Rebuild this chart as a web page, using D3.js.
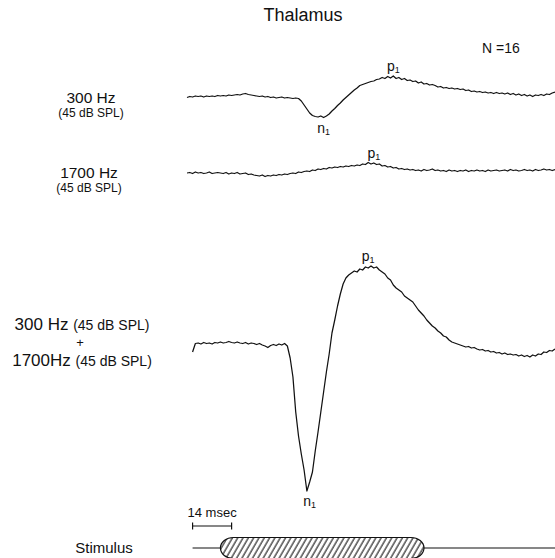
<!DOCTYPE html>
<html>
<head>
<meta charset="utf-8">
<script src="https://cdn.jsdelivr.net/npm/d3@7"></script>
<style>
  html, body { margin: 0; padding: 0; background: #fff; }
  svg { display: block; font-family: "Liberation Sans", Arial, sans-serif; }
</style>
</head>
<body>
<div id="chart"></div>
<script>
// msec from stimulus onset, one sample per msec
const times = d3.range(-12, 121);

// averaged responses, amplitude in arbitrary units
const trace300 = [
  -0.5, 0.5, 0, 1, 0.5, 1, 0, 1, 0.5, 1, 0.5, 1.5,
  1, 1.5, 1, 2, 1.5, 2, 2.5, 2, 3, 3.5, 2.5, 2, 1.5, 1, 0.5, 1, 0, 0.5, -0.5, 0, -1, -0.5, 0, -1, -0.5, -1, -1.5, -1,
  -1.5, -4, -8, -12, -16, -18.5, -19.5, -20, -19, -20.5, -19, -17, -14, -11.5, -8.5, -6, -3, -0.5, 2, 4.5, 7, 9,
  11.5, 12.5, 13.5, 14.5, 15.5, 16, 17.5, 18, 19.5, 18.5, 20.5, 19, 21, 18.5, 19.5, 17.5, 18.5, 16.5, 17, 15.5, 16,
  14, 15, 13, 13.5, 12, 12.5, 11.5, 10, 10.5, 9, 9.5, 8.5, 9, 8, 8.5, 7.5, 8, 6.5, 7, 5.5, 6, 5, 5.5, 4.5, 5, 4,
  4.5, 3.5, 4.5, 3.5, 4, 3, 4, 2.5, 3.5, 2, 3, 1.5, 2.5, 1, 2, 0.5, 2, 1.5, 2.5, 1.5, 3, 2.5, 4, 5
];

const trace1700 = [
  0, 0.5, -0.5, 1, 0, 0.5, -0.5, 0, 1, -0.5, 0, 0.5,
  0, -0.5, 0.5, -1, 0, -0.5, 0.5, -1, -0.5, 0, -1.5, -1, -2,
  -2.5, -3, -2, -3.5, -2.5, -3, -2, -2.5, -1.5, -2, -1, -1.5, -0.5,
  0, -0.5, 1, 0.5, 1.5, 2, 1.5, 3, 2.5, 4, 3.5, 4.5, 4, 5.5, 5,
  6, 5.5, 6.5, 6, 7, 6.5, 7.5, 7, 8, 7.5, 9, 8.5, 10.5, 9, 10,
  8.5, 9, 7, 7.5, 6, 6.5, 5, 5.5, 4, 4.5, 3.5, 4, 3, 3.5, 2.5,
  3, 2, 3.5, 2.5, 3, 4, 2.5, 3, 2, 2.5, 1.5, 3, 2, 2.5, 1.5,
  2.5, 2, 3, 1.5, 2.5, 2, 3, 2, 2.5, 1.5, 3, 2, 2.5, 3, 2,
  2.5, 3, 2, 3.5, 2.5, 3, 2, 2.5, 3.5, 2.5, 3, 2, 3.5, 2.5, 3, 4, 3, 3.5, 2.5, 3.5
];

const traceBoth = [
  null, null,
  -8, 0.5, 1, 0, 1.5, 0.5, 1, 0, 1.5, 1,
  2, 1, 1.5, 2.5, 1.5, 1, 2, 1, 0.5, 1.5, 0, 1, 0.5, -0.5, 0.5, -1, -2, -3.5, -1.5, -0.5, -1.5, 0, -1, 0.5,
  -2, -14, -33, -68, -92, -110, -126, -147, -138, -128,
  -107, -88, -68, -48, -28, -10, 11, 24, 38, 50, 60, 66, 69, 71, 73,
  72, 75, 74, 77, 76, 78, 76, 77, 74, 72, 70, 66, 64, 59, 56,
  54, 52, 48, 46, 44, 42, 38, 34, 31, 28, 24, 21, 18, 16, 13,
  11, 8, 7, 4, 2, 1, 0, -1, -2, -3, -2.5, -4, -3.5, -5, -6,
  -5.5, -7, -6.5, -8, -7.5, -9, -8.5, -10, -9, -10.5, -10, -11, -10.5, -12, -11,
  -12.5, -11.5, -13, -11, -12, -10, -10.5, -8, -8.5, -6.5, -7, -5
];

// peak labels: [trace index, msec, name]
const peaks = [
  [0, 37, "n"], [0, 62, "p"],
  [1, 55, "p"],
  [2, 32, "n"], [2, 53, "p"]
];

const stimulusOn = [0, 73];     // msec
const stimulusLine = [-10, 120];
const scaleBarMs = [-10, 4];    // 14 msec

const width = 555, height = 558;
const svg = d3.select("#chart").append("svg")
    .attr("width", width)
    .attr("height", height);

const x = d3.scaleLinear().domain([-12, 120]).range([187, 555]);

const baselines = [97, 173, 344];
const yScales = baselines.map(b => d3.scaleLinear().domain([0, 1]).range([b, b - 1]));
const traces = [trace300, trace1700, traceBoth];

traces.forEach((vals, i) => {
    const line = d3.line()
        .defined((d, j) => vals[j] != null)
        .x((d, j) => x(times[j]))
        .y((d, j) => yScales[i](vals[j]));
    svg.append("path")
        .attr("d", line(vals))
        .attr("fill", "none")
        .attr("stroke", "#111")
        .attr("stroke-width", 1.25)
        .attr("stroke-linejoin", "round");
});

// n1 / p1 labels, placed off the local extreme
peaks.forEach(([ti, t, name]) => {
    const vals = traces[ti];
    const j = times.indexOf(Math.round(t));
    const win = vals.slice(j - 3, j + 4);
    const ext = name === "p" ? d3.max(win) : d3.min(win);
    const yv = yScales[ti](ext);
    const ty = name === "p" ? yv - 5 : yv + 15;
    const txt = svg.append("text")
        .attr("x", x(t))
        .attr("y", ty)
        .attr("text-anchor", "middle")
        .attr("font-size", 14)
        .attr("fill", "#111")
        .text(name);
    txt.append("tspan")
        .attr("font-size", 9)
        .attr("dy", 2)
        .text("1");
});

// text
svg.append("text").attr("x", 303).attr("y", 21).attr("text-anchor", "middle")
    .attr("font-size", 18).attr("fill", "#111").text("Thalamus");
svg.append("text").attr("x", 482).attr("y", 53)
    .attr("font-size", 14).attr("fill", "#111").text("N =16");

const left = [
    ["300 Hz", 91, 103, 15.5],
    ["(45 dB SPL)", 91, 117, 12],
    ["1700 Hz", 89, 178, 15.5],
    ["(45 dB SPL)", 89, 192, 12]
];
left.forEach(([s, lx, ly, fs]) => {
    svg.append("text").attr("x", lx).attr("y", ly).attr("text-anchor", "middle")
        .attr("font-size", fs).attr("fill", "#111").text(s);
});

const combo = [["300 Hz", 330], ["1700Hz", 366]];
combo.forEach(([s, ly]) => {
    const t = svg.append("text").attr("x", 82).attr("y", ly).attr("text-anchor", "middle")
        .attr("font-size", 17).attr("fill", "#111").text(s + " ");
    t.append("tspan").attr("font-size", 14).text("(45 dB SPL)");
});
svg.append("text").attr("x", 80).attr("y", 347).attr("text-anchor", "middle")
    .attr("font-size", 13).attr("fill", "#111").text("+");

// scale bar
const sbY = 526;
svg.append("line").attr("x1", x(scaleBarMs[0])).attr("x2", x(scaleBarMs[1]))
    .attr("y1", sbY).attr("y2", sbY).attr("stroke", "#111").attr("stroke-width", 1.2);
scaleBarMs.forEach(t => {
    svg.append("line").attr("x1", x(t)).attr("x2", x(t))
        .attr("y1", sbY - 3.5).attr("y2", sbY + 3.5).attr("stroke", "#111").attr("stroke-width", 1.2);
});
svg.append("text").attr("x", (x(scaleBarMs[0]) + x(scaleBarMs[1])) / 2).attr("y", 517)
    .attr("text-anchor", "middle").attr("font-size", 13).attr("fill", "#111")
    .text((scaleBarMs[1] - scaleBarMs[0]) + " msec");

// stimulus
const stY = 548;
const defs = svg.append("defs");
const pat = defs.append("pattern").attr("id", "hatch")
    .attr("patternUnits", "userSpaceOnUse")
    .attr("width", 4.6).attr("height", 10)
    .attr("patternTransform", "rotate(30)");
pat.append("line").attr("x1", 1).attr("x2", 1).attr("y1", 0).attr("y2", 10)
    .attr("stroke", "#111").attr("stroke-width", 1.1);

svg.append("line").attr("x1", x(stimulusLine[0])).attr("x2", x(stimulusLine[1]))
    .attr("y1", stY).attr("y2", stY).attr("stroke", "#111").attr("stroke-width", 1.2);
svg.append("rect")
    .attr("x", x(stimulusOn[0])).attr("y", stY - 10.5)
    .attr("width", x(stimulusOn[1]) - x(stimulusOn[0])).attr("height", 21)
    .attr("rx", 13).attr("ry", 10.5)
    .attr("fill", "#fff");
svg.append("rect")
    .attr("x", x(stimulusOn[0])).attr("y", stY - 10.5)
    .attr("width", x(stimulusOn[1]) - x(stimulusOn[0])).attr("height", 21)
    .attr("rx", 13).attr("ry", 10.5)
    .attr("fill", "url(#hatch)")
    .attr("stroke", "#111").attr("stroke-width", 1.2);

svg.append("text").attr("x", 104).attr("y", 553).attr("text-anchor", "middle")
    .attr("font-size", 15).attr("fill", "#111").text("Stimulus");
</script>
</body>
</html>
